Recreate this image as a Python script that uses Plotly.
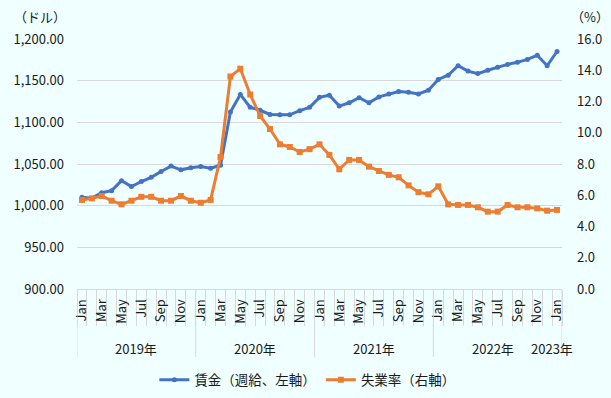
import plotly.graph_objects as go

years = [2019, 2020, 2021, 2022, 2023]
month_names = ["Jan", "Feb", "Mar", "Apr", "May", "Jun",
               "Jul", "Aug", "Sep", "Oct", "Nov", "Dec"]

# Weekly wage (USD), Jan 2019 - Jan 2023
wage = [1010, 1009, 1015.5, 1018, 1030, 1023, 1029, 1034, 1041, 1047.5, 1043, 1045.5,
        1047, 1045, 1048.5, 1112.5, 1133.5, 1118, 1114.5, 1109.5, 1109, 1109, 1114, 1118,
        1130, 1132.5, 1119.5, 1123.5, 1129.5, 1123.5, 1130.5, 1134, 1137, 1136, 1134, 1138.5,
        1151.5, 1156.5, 1168, 1161.5, 1158.5, 1162.5, 1166, 1169.5, 1172, 1175.5, 1180.5, 1168,
        1185]

# Unemployment rate (%)
unemp = [5.7, 5.8, 5.95, 5.65, 5.42, 5.65, 5.9, 5.9, 5.65, 5.65, 5.95, 5.65,
         5.52, 5.7, 8.45, 13.6, 14.1, 12.45, 11.07, 10.24, 9.26, 9.09, 8.77, 8.95,
         9.26, 8.58, 7.66, 8.26, 8.26, 7.83, 7.55, 7.3, 7.15, 6.63, 6.2, 6.06,
         6.57, 5.42, 5.38, 5.38, 5.23, 4.95, 4.95, 5.38, 5.23, 5.23, 5.16, 5.01,
         5.06]

series_names = ["賃金（週給、左軸）", "失業率（右軸）"]
left_unit = "（ドル）"
right_unit = "（%）"

# Build category sequence (year, month)
cats = []
for y in years:
    for m in month_names:
        if len(cats) < len(wage):
            cats.append((y, m))
xs = list(range(len(cats)))

FONT = "Noto Sans CJK JP, Noto Sans, sans-serif"
BLUE = "#4472C4"
ORANGE = "#ED7D31"
GRID = "#D9D9D9"
BG = "#F0FFFF"

fig = go.Figure()
fig.add_trace(go.Scatter(
    x=xs, y=wage, name=series_names[0], mode="lines+markers",
    line=dict(color=BLUE, width=3), marker=dict(symbol="circle", size=5, color=BLUE),
    yaxis="y"))
fig.add_trace(go.Scatter(
    x=xs, y=unemp, name=series_names[1], mode="lines+markers",
    line=dict(color=ORANGE, width=3), marker=dict(symbol="square", size=6, color=ORANGE),
    yaxis="y2"))

tickvals = [i for i, c in enumerate(cats) if month_names.index(c[1]) % 2 == 0]
ticktext = [cats[i][1] for i in tickvals]

fig.update_layout(
    width=611, height=398,
    margin=dict(l=77, r=49, t=39, b=109, autoexpand=False),
    paper_bgcolor=BG, plot_bgcolor=BG,
    font=dict(family=FONT, size=13, color="#1a1a1a"),
    showlegend=True,
    legend=dict(orientation="h", x=0.475, xanchor="center", y=-0.364, yanchor="middle",
                font=dict(size=13.5), bgcolor="rgba(0,0,0,0)", itemwidth=30,
                tracegroupgap=0),
    xaxis=dict(
        range=[-0.5, len(xs) - 0.5], tickmode="array", tickvals=tickvals, ticktext=ticktext,
        tickangle=-90, ticks="", showgrid=False, zeroline=False, automargin=False,
        showline=True, linecolor=GRID, linewidth=1,
        tickfont=dict(size=13), ticklabelstandoff=4,
        minor=dict(ticks="outside", ticklen=36, tickcolor=GRID, tickwidth=1,
                   tickmode="array", tickvals=[i - 0.5 for i in range(len(xs) + 1)],
                   showgrid=False),
    ),
    yaxis=dict(
        range=[900, 1200], dtick=50, tick0=900, tickformat=",.2f", automargin=False,
        showgrid=True, gridcolor=GRID, gridwidth=1, zeroline=False,
        ticks="", ticklabelstandoff=12, showline=False,
    ),
    yaxis2=dict(
        range=[0, 16], dtick=2, tick0=0, tickformat=".1f", automargin=False,
        overlaying="y", side="right", showgrid=False, zeroline=False,
        ticks="", ticklabelstandoff=14, showline=False,
    ),
    hovermode=False,
)

# Year group labels and separators
shapes = []
annotations = []
year_list = sorted(set(c[0] for c in cats))
for y in year_list:
    idx = [i for i, c in enumerate(cats) if c[0] == y]
    center = sum(idx) / len(idx)
    shift = -5 if len(idx) == 1 else 0
    annotations.append(dict(x=center, y=-0.236, xref="x", yref="paper",
                            text=f"{y}年", showarrow=False, xshift=shift,
                            font=dict(size=13), yanchor="middle"))
    if len(idx) > 1:
        shapes.append(dict(type="line", xref="x", yref="paper",
                           x0=idx[0] - 0.5, x1=idx[0] - 0.5, y0=0, y1=-0.272,
                           line=dict(color=GRID, width=1)))
shapes.append(dict(type="line", xref="x", yref="paper",
                   x0=len(xs) - 0.5, x1=len(xs) - 0.5, y0=0, y1=-0.272,
                   line=dict(color=GRID, width=1)))

annotations.append(dict(x=-0.076, y=1.088, xref="paper", yref="paper", text=left_unit,
                        showarrow=False, xanchor="center", yanchor="middle",
                        font=dict(size=13)))
annotations.append(dict(x=1.058, y=1.088, xref="paper", yref="paper", text=right_unit,
                        showarrow=False, xanchor="center", yanchor="middle",
                        font=dict(size=13)))

fig.update_layout(shapes=shapes, annotations=annotations)

fig.write_html(
    "out.html",
    config={"displayModeBar": False, "staticPlot": True},
    post_script="document.body.style.margin='0';document.body.style.padding='0';"
                "document.body.style.background='#F0FFFF';"
                "document.documentElement.style.overflow='hidden';",
)
